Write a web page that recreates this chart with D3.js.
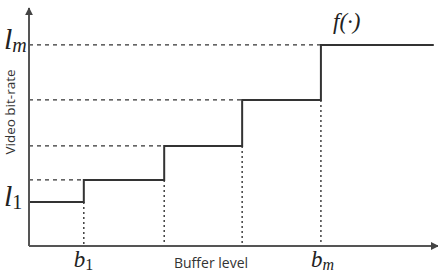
<!DOCTYPE html>
<html>
<head>
<meta charset="utf-8">
<script src="https://cdn.jsdelivr.net/npm/d3@7"></script>
<style>
  body { margin: 0; background: #fff; }
  .lab { font-family: "Liberation Serif", "DejaVu Serif", serif; font-style: italic; fill: #222; }
</style>
</head>
<body>
<svg id="chart"></svg>
<script>
// buffer thresholds b_1..b_m and bit-rate levels l_1..l_m (arbitrary units)
const thresholds = [13.5, 33.3, 52.5, 71.9];
const levels = [18.6, 28, 42.4, 61.9, 85.2];
const bufferEnd = 99.7;
const xTicks = [{ v: 13.5, name: "b", sub: "1" }, { v: 71.9, name: "b", sub: "m" }];
const yTicks = [{ v: 18.6, name: "l", sub: "1" }, { v: 85.2, name: "l", sub: "m" }];

const width = 438, height = 273;
const svg = d3.select("#chart").attr("width", width).attr("height", height);

const x = d3.scaleLinear().domain([0, 100]).range([29, 435]);
const y = d3.scaleLinear().domain([0, 100]).range([246, 10]);

// step function points
const pts = [[0, levels[0]]];
thresholds.forEach((t, i) => pts.push([t, levels[i + 1]]));
pts.push([bufferEnd, levels[levels.length - 1]]);

// dashed guides from y axis to each step
svg.selectAll(".hguide")
  .data(thresholds)
  .enter()
  .append("line")
  .attr("x1", x(0)).attr("x2", d => x(d))
  .attr("y1", (d, i) => y(levels[i + 1])).attr("y2", (d, i) => y(levels[i + 1]))
  .attr("stroke", "#333").attr("stroke-width", 1.2)
  .attr("stroke-dasharray", "4,4");

// dotted drops to the x axis
svg.selectAll(".vguide")
  .data(thresholds)
  .enter()
  .append("line")
  .attr("x1", d => x(d)).attr("x2", d => x(d))
  .attr("y1", (d, i) => y(levels[i])).attr("y2", y(0))
  .attr("stroke", "#333").attr("stroke-width", 1.4)
  .attr("stroke-dasharray", "2,3");

// step curve
svg.append("path")
  .datum(pts)
  .attr("fill", "none")
  .attr("stroke", "#333")
  .attr("stroke-width", 2)
  .attr("d", d3.line().x(d => x(d[0])).y(d => y(d[1])).curve(d3.curveStepAfter));

// axes with arrows
svg.append("defs").append("marker")
  .attr("id", "arr").attr("viewBox", "0 0 10 10")
  .attr("refX", 9).attr("refY", 5)
  .attr("markerWidth", 4).attr("markerHeight", 4)
  .attr("orient", "auto")
  .append("path").attr("d", "M0,0L10,5L0,10z").attr("fill", "#444");

svg.append("line")
  .attr("x1", x(0)).attr("x2", 438).attr("y1", y(0)).attr("y2", y(0))
  .attr("stroke", "#555").attr("stroke-width", 2)
  .attr("marker-end", "url(#arr)");
svg.append("line")
  .attr("x1", x(0)).attr("x2", x(0)).attr("y1", y(0)).attr("y2", 8)
  .attr("stroke", "#555").attr("stroke-width", 2)
  .attr("marker-end", "url(#arr)");

// tick labels (digit subscripts upright, letters italic)
const subStyle = d => /\d/.test(d.sub) ? "normal" : "italic";

const xl = svg.selectAll(".xl").data(xTicks).enter()
  .append("text").attr("class", "lab")
  .attr("x", d => x(d.v) - 10).attr("y", 267)
  .attr("font-size", 23);
xl.append("tspan").text(d => d.name);
xl.append("tspan").attr("font-size", 16).attr("dy", 3)
  .attr("font-style", subStyle).text(d => d.sub);

const yl = svg.selectAll(".yl").data(yTicks).enter()
  .append("text").attr("class", "lab")
  .attr("x", 4).attr("y", d => y(d.v) + 4)
  .attr("font-size", 30);
yl.append("tspan").text(d => d.name);
yl.append("tspan").attr("font-size", 20).attr("dy", 3)
  .attr("font-style", subStyle).text(d => d.sub);

svg.append("text").attr("class", "lab")
  .attr("x", 333).attr("y", 29).attr("font-size", 23)
  .text("f(\u00b7)");

// axis titles
svg.append("text")
  .attr("x", 211).attr("y", 268)
  .attr("text-anchor", "middle")
  .attr("font-family", "Open Sans, sans-serif").attr("font-size", 14)
  .attr("fill", "#333")
  .text("Buffer level");

svg.append("text")
  .attr("transform", "translate(15,112) rotate(-90)")
  .attr("text-anchor", "middle")
  .attr("font-family", "Open Sans, sans-serif").attr("font-size", 13.5)
  .attr("fill", "#333")
  .text("Video bit-rate");
</script>
</body>
</html>
